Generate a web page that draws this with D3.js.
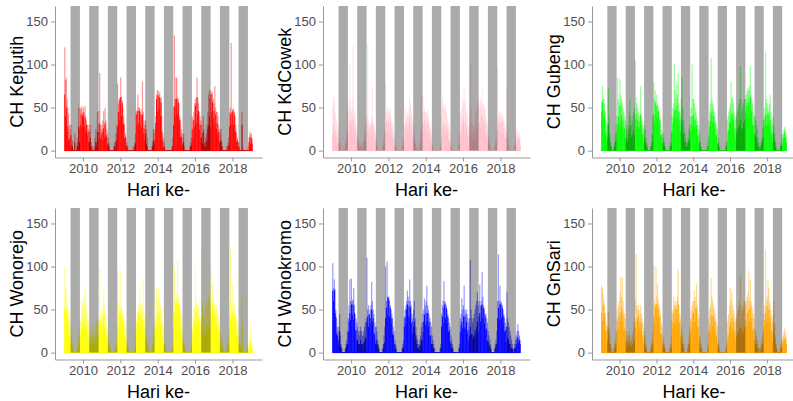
<!DOCTYPE html>
<html>
<head>
<meta charset="utf-8">
<script src="https://cdn.jsdelivr.net/npm/d3@7"></script>
<style>
  body { margin: 0; background: #fff; }
  text { font-family: "Liberation Sans", Arial, sans-serif; }
</style>
</head>
<body>
<svg id="chart" width="793" height="401"></svg>
<script>
// daily rainfall (CH) per station, read off the figure as half-month values
// Jan 2009 .. Jan 2019, 24 values per year: Jan a, Jan b, Feb a, ... Dec b
// "Hi" = light spikes (top of the translucent lines), "Lo" = dense saturated core

var stations = ["Keputih", "KdCowek", "Gubeng", "Wonorejo", "Wonokromo", "GnSari"];
var colors = ["#ff0000", "#ffc0cb", "#00ff00", "#ffff00", "#0000ff", "#ffa500"];

var keputihHi = [
  120,82,85,60,50,42,30,25, 30,8,12,0,0,20,0,0,15,10,50,25, 50,48,52,45,
  50,45,52,40,35,30,30,25, 22,30,10,0,5,0,0,15,25,10,45,30, 46,90,30,25,
  30,35,46,30,50,35,25,20, 15,10,0,0,0,0,0,5,10,5,20,30, 78,55,60,62,
  85,62,58,50,40,30,20,15, 10,5,0,0,0,0,0,0,5,0,10,20, 47,45,65,50,
  50,45,48,40,80,45,35,30, 35,25,15,0,0,0,0,0,5,10,25,20, 25,40,65,70,
  70,65,68,60,62,40,20,15, 10,0,0,0,0,0,0,0,0,0,5,15, 50,134,60,85,
  85,62,60,55,40,35,25,20, 15,20,5,0,0,0,0,0,0,5,10,15, 40,35,45,55,
  60,55,85,62,55,45,40,35, 30,20,40,25,10,15,20,30,45,65,70,60, 70,65,68,60,
  55,75,50,45,45,40,30,25, 20,25,10,5,0,0,0,0,5,0,10,15, 45,50,125,45,
  48,49,45,40,30,20,15,10, 10,0,0,0,45,5,0,0,0,0,0,0, 5,15,22,18,
  20,15
];
var keputihLo = [
  65,40,50,22,28,12,14,6, 18,0,5,0,0,10,0,0,6,4,28,10, 30,42,28,40,
  42,28,38,22,30,18,22,10, 10,15,5,0,0,0,0,5,10,5,22,12, 22,32,14,20,
  12,22,26,15,32,18,16,6, 8,5,0,0,0,0,0,0,5,0,10,12, 28,45,36,58,
  62,40,55,30,32,14,16,6, 5,0,0,0,0,0,0,0,0,0,5,8, 42,30,46,32,
  46,30,42,26,42,20,26,12, 20,8,5,0,0,0,0,0,0,5,12,8, 12,32,60,45,
  64,48,62,40,56,22,12,4, 5,0,0,0,0,0,0,0,0,0,0,5, 30,52,40,60,
  60,42,56,30,36,16,16,6, 8,10,0,0,0,0,0,0,0,0,5,6, 25,14,36,28,
  52,32,62,42,46,24,30,15, 15,8,22,8,5,4,10,12,25,30,40,28, 66,45,56,38,
  46,30,42,25,32,18,22,10, 10,12,5,0,0,0,0,0,0,0,5,6, 28,42,30,44,
  46,30,42,22,22,10,12,4, 5,0,0,0,30,0,0,0,0,0,0,0, 0,10,16,8,
  14,8
];

var kdcowekHi = [
  50,62,60,45,40,35,25,20, 30,15,10,0,0,0,5,0,10,20,30,50, 45,60,100,50,
  45,60,122,50,45,40,30,25, 20,15,10,5,10,5,5,10,20,25,35,30, 40,123,35,30,
  30,32,40,72,35,30,25,20, 15,10,5,0,0,0,0,0,5,10,20,25, 78,45,50,40,
  50,45,48,40,35,30,25,20, 15,10,5,0,0,0,0,0,0,5,10,15, 30,50,35,40,
  45,40,50,62,55,45,40,35, 30,25,15,10,5,0,0,5,10,20,65,40, 63,45,50,45,
  45,42,48,40,35,30,25,20, 10,5,0,0,0,0,0,0,0,0,5,10, 40,62,50,55,
  52,50,45,40,35,30,25,20, 10,8,0,0,0,0,0,0,0,0,10,20, 40,45,50,60,
  55,72,60,50,45,40,30,25, 40,103,50,35,30,25,30,40,45,50,55,60, 55,50,60,55,
  73,55,50,52,48,40,35,30, 20,15,10,5,0,0,0,0,5,10,15,25, 95,40,45,40,
  45,40,42,38,35,30,25,20, 72,30,15,5,0,0,0,0,0,5,10,15, 20,25,22,18,
  20,15
];
var kdcowekLo = [
  20,30,18,24,12,16,8,8, 10,5,3,0,0,0,0,0,3,8,12,16, 22,34,24,35,
  30,40,28,36,22,26,14,15, 10,8,5,0,5,0,0,5,10,12,16,10, 22,34,20,26,
  18,28,20,32,18,22,10,12, 8,5,0,0,0,0,0,0,0,5,10,9, 22,34,24,32,
  36,24,32,20,26,14,16,6, 5,5,0,0,0,0,0,0,0,0,5,6, 16,28,18,30,
  24,32,22,38,24,30,18,20, 15,10,8,4,0,0,0,0,5,10,22,12, 32,20,36,24,
  32,22,32,20,26,14,15,6, 5,0,0,0,0,0,0,0,0,0,0,5, 16,28,20,32,
  32,20,28,18,22,12,12,6, 5,3,0,0,0,0,0,0,0,0,5,8, 18,28,22,34,
  38,26,34,22,30,16,18,10, 20,32,18,20,12,14,10,22,16,26,24,32, 26,34,28,40,
  42,30,36,24,32,18,20,10, 10,8,5,0,0,0,0,0,0,5,8,10, 24,30,22,34,
  32,22,34,20,26,14,15,6, 20,10,5,0,0,0,0,0,0,0,5,6, 8,16,12,14,
  12,6
];

var gubengHi = [
  58,75,60,60,55,45,35,30, 30,72,40,20,10,5,0,0,5,10,20,30, 40,85,60,55,
  83,65,60,55,50,45,40,35, 30,25,20,30,45,60,40,30,35,40,45,50, 105,62,55,50,
  45,40,42,75,40,35,30,25, 30,25,15,10,5,0,0,0,5,10,20,40, 80,60,70,55,
  65,55,50,45,40,35,25,20, 20,15,10,5,0,0,0,0,0,5,10,20, 40,50,55,100,
  70,60,78,65,90,55,45,40, 60,85,50,35,25,20,15,10,10,15,25,30, 40,50,100,60,
  60,55,50,45,40,35,30,25, 20,10,5,0,0,0,0,0,0,0,5,10, 35,45,55,108,
  60,55,50,45,40,35,30,25, 15,10,5,0,0,0,0,0,0,0,5,10, 35,40,45,50,
  55,80,62,60,55,45,40,35, 40,45,50,55,60,98,60,45,50,55,60,60, 60,65,70,73,
  70,75,98,65,60,55,45,40, 40,35,30,25,15,10,5,5,10,15,25,35, 40,50,115,60,
  55,50,45,55,65,45,35,30, 40,30,20,10,5,0,0,0,0,5,10,20, 15,20,25,28,
  22,18
];
var gubengLo = [
  45,56,38,46,40,22,20,10, 15,30,16,10,5,0,0,0,0,5,10,12, 22,32,40,30,
  52,34,42,28,36,22,26,14, 15,10,10,14,25,28,18,15,16,20,24,18, 36,42,28,36,
  26,34,28,42,30,18,20,10, 15,10,8,4,0,0,0,0,0,5,10,18, 42,34,56,40,
  52,38,46,30,36,18,18,8, 10,6,5,0,0,0,0,0,0,0,5,8, 22,32,38,46,
  48,36,52,38,46,30,36,22, 30,36,20,20,10,10,5,4,5,8,12,12, 22,32,40,28,
  42,28,36,24,30,16,18,8, 10,4,0,0,0,0,0,0,0,0,0,5, 18,28,34,42,
  46,32,40,26,32,18,18,8, 8,4,0,0,0,0,0,0,0,0,0,5, 12,22,24,32,
  34,42,30,42,36,22,26,14, 20,24,26,28,30,36,26,25,26,32,30,36, 44,52,38,56,
  56,42,62,44,46,30,30,18, 20,16,15,8,5,4,0,0,5,8,12,16, 28,36,42,30,
  42,30,42,28,36,22,20,10, 20,14,10,4,0,0,0,0,0,0,5,8, 6,14,18,22,
  15,10
];

var wonorejoHi = [
  98,75,72,55,50,45,40,35, 30,20,10,5,0,0,0,0,5,10,20,30, 35,40,60,55,
  60,65,76,55,50,45,40,35, 25,20,15,20,30,25,20,25,30,35,40,35, 40,98,45,40,
  45,50,72,55,45,40,30,25, 20,15,10,5,0,0,0,0,0,5,10,20, 95,55,60,50,
  95,55,50,45,40,35,30,25, 15,10,5,0,0,0,0,0,0,0,5,15, 35,45,50,55,
  76,60,55,50,55,85,45,40, 30,20,15,10,5,0,0,0,5,10,20,30, 40,50,76,60,
  70,75,60,55,50,45,35,30, 15,10,5,0,0,0,0,0,0,0,5,10, 50,100,60,65,
  70,108,65,60,55,50,40,35, 20,15,10,5,0,0,0,0,0,0,5,10, 30,40,50,55,
  100,60,55,50,55,45,40,35, 122,60,50,45,40,50,60,55,60,70,65,60, 97,65,80,60,
  60,55,50,55,50,45,40,35, 25,20,15,10,5,0,0,0,5,10,15,25, 45,122,60,55,
  80,55,60,50,45,40,35,30, 20,15,10,5,65,10,0,0,0,0,5,10, 5,10,15,30,
  12,8
];
var wonorejoLo = [
  52,40,50,32,40,22,20,10, 15,8,5,0,0,0,0,0,0,5,10,12, 18,26,36,28,
  40,28,38,26,30,18,20,10, 12,8,8,10,15,10,10,12,15,16,20,14, 24,32,36,24,
  36,26,42,28,30,18,18,8, 10,6,5,0,0,0,0,0,0,0,5,8, 32,24,44,30,
  46,32,40,28,32,18,18,8, 8,4,0,0,0,0,0,0,0,0,0,6, 24,36,30,46,
  44,34,42,30,38,26,30,16, 15,8,8,4,0,0,0,0,0,5,10,12, 24,36,28,42,
  46,36,48,30,36,20,20,10, 8,4,0,0,0,0,0,0,0,0,0,5, 28,46,40,58,
  56,42,58,38,46,26,26,12, 10,6,5,0,0,0,0,0,0,0,0,5, 14,26,22,36,
  46,34,50,32,40,24,30,16, 40,22,26,18,20,22,30,20,30,28,36,26, 46,36,56,40,
  48,34,44,30,36,22,26,12, 12,8,8,4,0,0,0,0,0,5,8,10, 28,40,30,44,
  46,30,40,28,36,20,20,10, 10,6,5,0,35,4,0,0,0,0,0,5, 0,5,8,16,
  6,3
];

var wonokromoHi = [
  104,75,85,74,50,40,30,25, 30,45,20,10,5,0,0,0,5,10,15,25, 40,55,85,60,
  86,60,62,75,55,45,40,35, 30,25,20,25,30,25,20,20,25,30,35,40, 110,50,55,45,
  50,55,82,60,50,45,35,30, 30,25,15,10,5,0,0,0,5,10,20,30, 100,60,106,65,
  65,60,55,50,45,40,30,25, 15,10,5,0,0,0,0,0,0,5,10,15, 40,50,55,60,
  72,65,60,85,60,55,45,40, 50,60,40,30,20,15,10,10,15,20,30,35, 45,50,63,55,
  60,78,55,50,45,40,35,30, 20,15,10,5,0,0,0,0,0,0,5,10, 45,55,60,83,
  60,58,55,50,45,40,35,30, 20,15,10,5,0,0,0,0,0,0,5,10, 40,45,63,50,
  55,78,50,45,50,45,40,35, 40,108,50,40,35,40,45,50,55,60,70,55, 60,79,55,60,
  94,65,55,50,45,45,40,35, 25,20,15,10,5,0,0,0,5,10,15,25, 60,114,60,78,
  60,58,55,50,45,40,35,30, 70,40,35,30,25,20,15,10,5,5,10,15, 20,25,33,25,
  20,15
];
var wonokromoLo = [
  72,60,72,46,42,22,20,10, 15,25,8,5,0,0,0,0,0,5,8,10, 24,36,46,38,
  56,44,56,38,46,26,26,14, 15,10,10,10,15,10,10,8,12,14,18,16, 36,42,30,44,
  40,34,50,36,40,22,22,10, 15,10,8,4,0,0,0,0,0,5,10,12, 40,52,44,64,
  62,42,52,34,40,22,20,10, 8,4,0,0,0,0,0,0,0,0,5,6, 30,42,34,50,
  56,42,54,40,52,34,36,22, 30,36,22,16,10,6,5,4,8,8,15,14, 24,36,44,32,
  46,36,46,30,36,20,20,10, 10,6,5,0,0,0,0,0,0,0,0,5, 30,42,34,52,
  56,40,52,34,42,24,26,12, 10,6,5,0,0,0,0,0,0,0,0,5, 24,32,36,28,
  42,30,42,28,36,22,26,14, 20,30,22,22,16,20,18,26,22,30,36,24, 42,46,36,54,
  56,40,52,34,42,26,28,14, 12,8,8,4,0,0,0,0,0,5,8,10, 40,52,38,56,
  56,40,52,34,42,24,26,12, 30,18,15,10,10,6,5,4,0,0,5,6, 10,16,18,12,
  15,10
];

var gnsariHi = [
  78,75,68,60,55,45,35,30, 30,47,30,20,10,5,0,0,5,10,15,25, 40,50,55,60,
  70,88,65,88,60,50,45,40, 25,20,15,20,25,20,15,15,20,25,35,40, 62,115,55,50,
  55,50,45,55,45,40,35,30, 25,20,10,5,0,0,0,0,5,10,15,25, 102,60,55,100,
  65,80,60,55,50,45,35,30, 20,15,10,5,0,0,0,0,0,5,10,20, 45,50,65,55,
  60,55,60,65,97,55,45,40, 30,25,20,10,5,0,0,0,5,10,20,30, 40,50,55,60,
  60,72,65,60,80,55,45,40, 20,15,10,5,0,0,0,0,0,0,5,10, 40,50,55,87,
  65,60,55,50,45,40,35,30, 15,10,5,0,0,0,0,0,0,0,5,10, 35,40,45,55,
  75,60,70,55,50,45,40,35, 40,45,50,55,60,88,55,45,50,55,60,60, 55,60,65,70,
  95,60,85,60,55,50,45,40, 30,25,20,15,10,5,5,5,10,15,20,25, 45,55,120,60,
  65,85,75,60,55,50,40,35, 45,60,35,20,10,5,0,0,0,5,10,15, 15,20,25,28,
  22,18
];
var gnsariLo = [
  46,36,56,38,46,26,26,10, 15,25,12,10,5,0,0,0,0,5,8,10, 24,36,28,42,
  46,36,52,36,44,26,28,14, 12,8,8,10,12,8,8,6,10,10,15,14, 30,36,26,40,
  42,28,36,26,34,20,20,10, 12,8,5,0,0,0,0,0,0,5,8,10, 42,34,52,56,
  56,40,52,34,42,22,22,10, 10,6,5,0,0,0,0,0,0,0,5,8, 36,28,46,34,
  52,36,50,38,56,34,36,20, 15,10,10,4,0,0,0,0,0,5,10,12, 24,36,28,46,
  46,36,52,38,50,30,30,16, 10,6,5,0,0,0,0,0,0,0,0,5, 24,32,26,42,
  44,32,42,28,36,20,20,10, 8,4,0,0,0,0,0,0,0,0,0,5, 14,22,18,30,
  36,26,40,28,36,22,26,14, 20,18,26,22,30,28,28,18,25,22,30,26, 38,30,46,36,
  50,36,52,34,40,26,28,14, 15,10,10,6,5,0,0,0,5,6,10,10, 30,38,46,36,
  54,40,50,34,42,26,26,12, 22,30,16,10,5,0,0,0,0,0,5,6, 8,12,18,14,
  15,10
];

var hiSeries = [keputihHi, kdcowekHi, gubengHi, wonorejoHi, wonokromoHi, gnsariHi];
var loSeries = [keputihLo, kdcowekLo, gubengLo, wonorejoLo, wonokromoLo, gnsariLo];

// dry-season bands (May - Oct) drawn over the data
var bandYears = [2009, 2010, 2011, 2012, 2013, 2014, 2015, 2016, 2017, 2018];
var yTicks = [0, 50, 100, 150];
var xTickYears = [2010, 2012, 2014, 2016, 2018];

// panel grid
var colLeft = [55, 323, 592];
var colWidth = [207, 207, 204];
var rowTop = [6, 208];
var plotHeight = 151.5;

function halfMonthDate(i) {
    var yr = 2009 + Math.floor(i / 24);
    var m = Math.floor((i % 24) / 2);
    return new Date(yr, m, (i % 2) ? 23 : 8);
}

var svg = d3.select("#chart");

stations.forEach(function (name, k) {
    var col = k % 3, row = Math.floor(k / 3);
    var w = colWidth[col], h = plotHeight;
    var g = svg.append("g")
        .attr("transform", "translate(" + colLeft[col] + "," + rowTop[row] + ")");

    var x = d3.scaleTime()
        .domain([new Date(2008, 6, 1), new Date(2019, 7, 3)])
        .range([0, w]);
    var y = d3.scaleLinear()
        .domain([-8, 168])
        .range([h, 0]);

    var hi = hiSeries[k], lo = loSeries[k];

    // light translucent spikes
    g.append("g").selectAll("rect")
        .data(hi)
        .enter()
        .append("rect")
        .attr("x", function (d, i) { return x(halfMonthDate(i)) - 0.6; })
        .attr("y", function (d) { return y(d); })
        .attr("width", 1.2)
        .attr("height", function (d) { return y(0) - y(d); })
        .attr("fill", colors[k])
        .attr("opacity", 0.4);

    // saturated core
    g.append("g").selectAll("rect")
        .data(lo)
        .enter()
        .append("rect")
        .attr("x", function (d, i) { return x(halfMonthDate(i)) - 0.45; })
        .attr("y", function (d) { return y(d); })
        .attr("width", 0.9)
        .attr("height", function (d) { return y(0) - y(d); })
        .attr("fill", colors[k]);

    // zero line of the series
    g.append("line")
        .attr("x1", x(new Date(2009, 0, 1)))
        .attr("x2", x(new Date(2019, 0, 31)))
        .attr("y1", y(0))
        .attr("y2", y(0))
        .attr("stroke", colors[k])
        .attr("stroke-width", 1);

    // grey bands over the dry season
    g.append("g").selectAll("rect")
        .data(bandYears)
        .enter()
        .append("rect")
        .attr("x", function (d) { return x(new Date(d, 4, 1)); })
        .attr("width", function (d) { return x(new Date(d, 10, 1)) - x(new Date(d, 4, 1)); })
        .attr("y", 0)
        .attr("height", y(0))
        .attr("fill", "#000")
        .attr("opacity", 0.33);

    // axes
    var yAxis = g.append("g")
        .call(d3.axisLeft(y).tickValues(yTicks).tickSize(4).tickSizeOuter(0).tickPadding(3));
    var xAxis = g.append("g")
        .attr("transform", "translate(0," + h + ")")
        .call(d3.axisBottom(x)
            .tickValues(xTickYears.map(function (d) { return new Date(d, 0, 1); }))
            .tickFormat(d3.timeFormat("%Y"))
            .tickSize(4).tickSizeOuter(0).tickPadding(2));

    [yAxis, xAxis].forEach(function (a) {
        a.select(".domain").attr("stroke", "#999").attr("stroke-width", 1);
        a.selectAll(".tick line").attr("stroke", "#999");
        a.selectAll(".tick text")
            .attr("fill", "#4d4d4d")
            .style("font-size", "13px")
            .style("font-family", "'Liberation Sans', Arial, sans-serif");
    });

    // axis titles
    g.append("text")
        .attr("x", w / 2)
        .attr("y", h + 38.5)
        .attr("text-anchor", "middle")
        .style("font-size", "18px")
        .text("Hari ke-");

    g.append("text")
        .attr("transform", "translate(-32," + (h / 2) + ") rotate(-90)")
        .attr("text-anchor", "middle")
        .style("font-size", "18px")
        .text("CH " + name);
});
</script>
</body>
</html>
